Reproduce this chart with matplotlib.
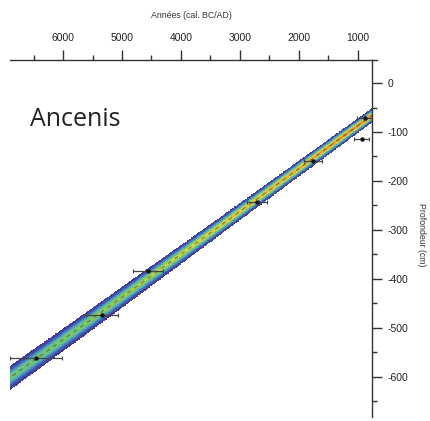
import numpy as np
import matplotlib.pyplot as plt
from matplotlib.colors import LinearSegmentedColormap

plt.rcParams['axes.unicode_minus'] = False

# --- données ---
# dates calibrées (âge cal. BC/AD, profondeur en cm, demi-intervalle en années)
date_ages = [881, 932, 1763, 2712, 4559, 5339, 6458]
date_depths = [-71, -114, -159, -243, -384, -473, -561]
date_errs = [140, 127, 150, 170, 255, 270, 440]

# modèle âge-profondeur : âge médian et écart-type à chaque profondeur
model_depths = [40, -100, -300, -500, -700]
model_ages = [-460, 1150, 3430, 5720, 8040]
model_sd = [70, 75, 90, 115, 135]

x_major = [1000, 2000, 3000, 4000, 5000, 6000]
x_minor = [1500, 2500, 3500, 4500, 5500, 6500]
y_major = [0, -100, -200, -300, -400, -500, -600]
y_minor = [-50, -150, -250, -350, -450, -550, -650]

band_colors = ['#4a2a86', '#3c4fb0', '#4a86c0', '#58b8b0', '#7cc860',
               '#d8d848', '#f0a030', '#e8582a', '#d83a22']
band_cmap = LinearSegmentedColormap.from_list('band', band_colors)

# --- figure ---
fig = plt.figure(figsize=(4.31, 4.21), dpi=100)
ax = fig.add_axes([10/431, 1 - 417/421, 362/431, 357/421])

# densité de probabilité du modèle
age_grid = np.linspace(700, 7000, 700)
depth_grid = np.linspace(-690, 50, 600)
m = np.interp(depth_grid, model_depths[::-1], model_ages[::-1])
s = np.interp(depth_grid, model_depths[::-1], model_sd[::-1])
A, _ = np.meshgrid(age_grid, depth_grid)
z = (A - m[:, None]) / s[:, None]
dens = np.exp(-0.5 * z**2) / s[:, None]
dens = np.ma.masked_where(np.abs(z) > 2.3, dens)
ax.pcolormesh(age_grid, depth_grid, dens, cmap=band_cmap, vmin=0,
              vmax=1 / 70 / 0.85, shading='auto', rasterized=True)

# ligne médiane en tirets
ax.plot(m, depth_grid, color='#333333', alpha=0.45, lw=1, dashes=(3, 3))

# dates
ax.errorbar(date_ages, date_depths, xerr=date_errs, fmt='o', ms=2.2,
            color='#111111', ecolor='#444444', elinewidth=0.9,
            capsize=1.5, capthick=0.8)

ax.set_xlim(6900, 760)
ax.set_ylim(-682, 47)

for side in ['left', 'bottom']:
    ax.spines[side].set_visible(False)
for side in ['top', 'right']:
    ax.spines[side].set_color('#333333')
    ax.spines[side].set_linewidth(1)

# l'axe du haut dépasse un peu l'axe de droite
ax.plot([1, 1.014], [1, 1], transform=ax.transAxes, color='#333333',
        lw=1, clip_on=False)

ax.xaxis.tick_top()
ax.yaxis.tick_right()
ax.set_xticks(x_major)
ax.set_xticks(x_minor, minor=True)
ax.set_yticks(y_major)
ax.set_yticks(y_minor, minor=True)
ax.tick_params(which='major', length=7, width=1, color='#333333',
               labelsize=7.5, labelcolor='#222222')
ax.tick_params(axis='x', which='major', pad=5)
ax.tick_params(axis='y', which='major', pad=4)
ax.tick_params(which='minor', length=3.5, width=1, color='#333333')
for lab in ax.get_xticklabels() + ax.get_yticklabels():
    lab.set_family('Liberation Sans')

ax.xaxis.set_label_position('top')
ax.set_xlabel('Années (cal. BC/AD)', fontsize=6.3, color='#333333',
              family='Liberation Sans', labelpad=11)
ax.yaxis.set_label_position('right')
ax.set_ylabel('Profondeur (cm)', fontsize=6.3, color='#333333',
              family='Liberation Sans', rotation=270, va='center')
ax.yaxis.set_label_coords(1.138, 0.51)

fig.text(30/431, 1 - 119/421, 'Ancenis', fontsize=18, va='center',
         family='Open Sans', color='#222222')

fig.savefig('out.png', dpi=100)
